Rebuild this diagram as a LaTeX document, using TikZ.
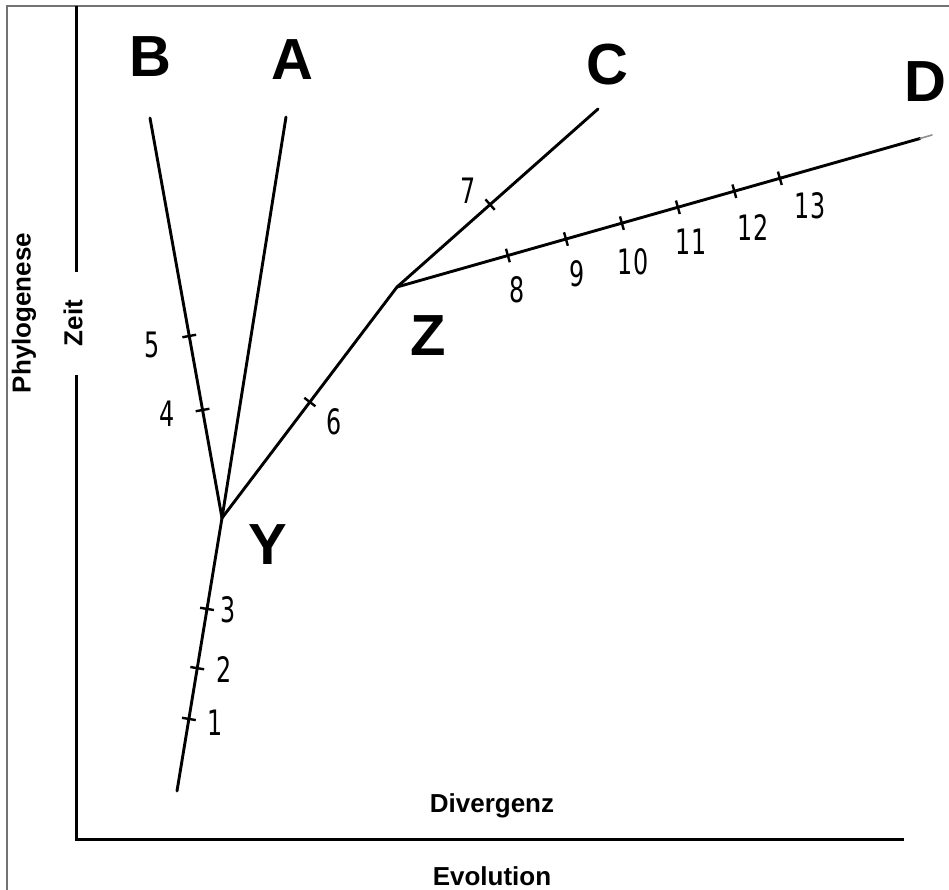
\documentclass[tikz,border=0pt]{standalone}
\usepackage{fontspec}
\setmainfont{Liberation Sans}
\newfontfamily\handfont{DejaVu Sans}
\usetikzlibrary{calc}
\newcommand\tickat[3]{%
  \draw[tickmark] ($(#1)!#3!(#2)!7pt!90:(#2)$) -- ($(#1)!#3!(#2)!7pt!-90:(#2)$);}
\begin{document}
\begin{tikzpicture}[x=1pt,y=-1pt,
  branch/.style={line width=2.9pt, line cap=round},
  axis/.style={line width=3pt},
  frameline/.style={line width=2.2pt, draw=black!55},
  bigletter/.style={font=\fontsize{58}{58}\selectfont\bfseries, inner sep=0pt},
  axislabel/.style={font=\fontsize{26}{26}\selectfont\bfseries, inner sep=0pt},
  numlabel/.style={font=\handfont\fontsize{35}{35}\selectfont, inner sep=0pt, xscale=0.68},
  tickmark/.style={line width=2.4pt}]
\useasboundingbox (0,0) rectangle (949,890);
\fill[white] (0,0) rectangle (949,890);

% frame (top and left edges)
\coordinate (fTL) at (7,6);
\coordinate (fTR) at (949,6);
\coordinate (fBL) at (7,890);
\draw[frameline] (fTR) -- (fTL) -- (fBL);

% axes
\coordinate (vTop) at (76,6);
\coordinate (vGap1) at (76,272);
\coordinate (vGap2) at (76,375);
\coordinate (origin) at (76,839);
\coordinate (hEnd) at (904,839);
\draw[axis] (vTop) -- (vGap1);
\draw[axis] (vGap2) -- (origin) -- (hEnd);

% axis labels
\node[axislabel, rotate=90] (phylo) at (24,313) {Phylogenese};
\node[axislabel, rotate=90] (zeit) at (73,323) {Zeit};
\node[axislabel, anchor=base] (diverg) at (492,812) {Divergenz};
\node[axislabel, anchor=base] (evol) at (492,885) {Evolution};

% tree coordinates
\coordinate (root) at (177,791);
\coordinate (Y) at (222,518);
\coordinate (Z) at (397,287);
\coordinate (tipA) at (286,117);
\coordinate (tipB) at (150,118);
\coordinate (tipC) at (598,109);
\coordinate (tipD) at (920,138.5);
\coordinate (tipDend) at (932,135);

% branches
\draw[branch] (root) -- (Y);
\draw[branch] (Y) -- (tipB);
\draw[branch] (Y) -- (tipA);
\draw[branch] (Y) -- (Z);
\draw[branch] (Z) -- (tipC);
\draw[branch] (Z) -- (tipD);
\draw[line width=1.6pt, black!45, line cap=round] (tipD) -- (tipDend);

% ticks
\tickat{root}{Y}{0.264}
\tickat{root}{Y}{0.45}
\tickat{root}{Y}{0.667}
\tickat{Y}{tipB}{0.27}
\tickat{Y}{tipB}{0.455}
\tickat{Y}{Z}{0.502}
\tickat{Z}{tipC}{0.463}
\tickat{Z}{tipD}{0.212}
\tickat{Z}{tipD}{0.323}
\tickat{Z}{tipD}{0.43}
\tickat{Z}{tipD}{0.537}
\tickat{Z}{tipD}{0.645}
\tickat{Z}{tipD}{0.732}

% big letters
\node[bigletter] (lB) at (150,57) {B};
\node[bigletter] (lA) at (292,60) {A};
\node[bigletter] (lC) at (607,65) {C};
\node[bigletter] (lD) at (925,82) {D};
\node[bigletter] (lY) at (268,545) {Y};
\node[bigletter] (lZ) at (428,336) {Z};

% number labels
\node[numlabel] (n1) at (215,723) {1};
\node[numlabel] (n2) at (224,670) {2};
\node[numlabel] (n3) at (228,610) {3};
\node[numlabel] (n4) at (167,414) {4};
\node[numlabel] (n5) at (152,345) {5};
\node[numlabel] (n6) at (334,422) {6};
\node[numlabel] (n7) at (468,191) {7};
\node[numlabel] (n8) at (517,290) {8};
\node[numlabel] (n9) at (577,274) {9};
\node[numlabel] (n10) at (633,262) {10};
\node[numlabel] (n11) at (691,242) {11};
\node[numlabel] (n12) at (753,228) {12};
\node[numlabel] (n13) at (810,206) {13};
\end{tikzpicture}
\end{document}
